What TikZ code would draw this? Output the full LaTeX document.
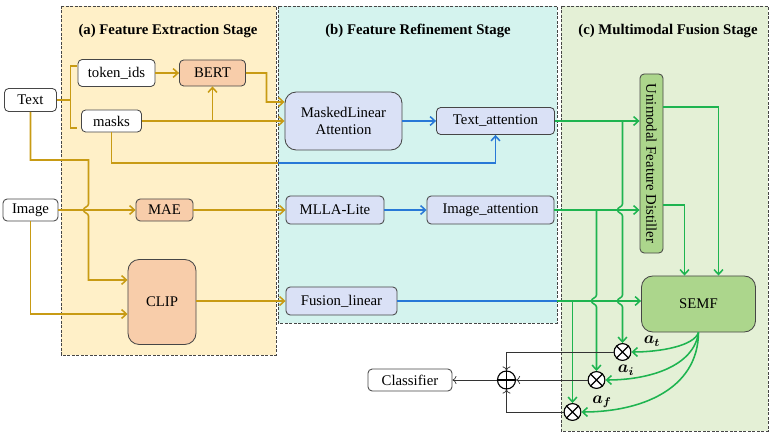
\documentclass[tikz,border=0pt]{standalone}
\usepackage{fontspec}
\setmainfont{Liberation Serif}
\usepackage{bm}
\usetikzlibrary{arrows.meta}
\definecolor{goldline}{RGB}{200,155,20}
\definecolor{blueline}{RGB}{40,120,215}
\definecolor{greenline}{RGB}{30,180,80}
\definecolor{stageA}{RGB}{255,240,200}
\definecolor{stageB}{RGB}{212,243,238}
\definecolor{stageC}{RGB}{228,240,214}
\definecolor{peach}{RGB}{248,205,170}
\definecolor{lavender}{RGB}{218,225,246}
\definecolor{leaf}{RGB}{172,214,140}
\definecolor{edge}{RGB}{70,70,70}

\begin{document}
\begin{tikzpicture}[x=0.025cm, y=-0.025cm, font=\fontsize{10.5}{12}\selectfont,
  >={Straight Barb[length=1.2mm,width=2.2mm]},
  stage/.style={draw=edge, dashed, dash pattern=on 2pt off 1.2pt, line width=0.6pt},
  ttl/.style={font=\fontsize{10.5}{12}\selectfont\bfseries},
  box/.style={draw=edge, line width=0.6pt, rounded corners=3pt, fill=white, inner sep=1pt},
  orbox/.style={box, fill=peach},
  lvbox/.style={box, fill=lavender},
  gnbox/.style={box, fill=leaf},
  op/.style={draw=black, circle, fill=white, line width=0.8pt, minimum size=0.42cm, inner sep=0pt},
  gd/.style={draw=goldline, line width=1.1pt},
  bl/.style={draw=blueline, line width=1.1pt},
  gn/.style={draw=greenline, line width=1.1pt},
  bk/.style={draw=black!80, line width=0.5pt, >={To[length=1mm,width=2mm]}}]
  \useasboundingbox (0,0) rectangle (776,439);
  % stages
  \draw[stage, fill=stageA] (61,6) rectangle (276,355);
  \draw[stage, fill=stageB] (278,6) rectangle (557,323);
  \draw[stage, fill=stageC] (561,6) rectangle (768,431);
  \node[ttl] (ta) at (168,31) {(a) Feature Extraction Stage};
  \node[ttl] (tb) at (418,31) {(b) Feature Refinement Stage};
  \node[ttl] (tc) at (668,31) {(c) Multimodal Fusion Stage};
  % inputs
  \node[box, minimum width=1.3cm, minimum height=0.575cm] (txt) at (30.5,100) {Text};
  \node[box, minimum width=1.375cm, minimum height=0.55cm] (img) at (30.5,210) {Image};
  % stage (a)
  \node[box, minimum width=1.925cm, minimum height=0.675cm] (tok) at (116.5,73) {token\_ids};
  \node[box, minimum width=1.5cm, minimum height=0.55cm] (msk) at (111.5,121) {masks};
  \node[orbox, minimum width=1.65cm, minimum height=0.65cm] (bert) at (212.5,73) {BERT};
  \node[orbox, minimum width=1.425cm, minimum height=0.55cm] (mae) at (164.5,210) {MAE};
  \node[orbox, rounded corners=8pt, minimum width=1.7cm, minimum height=2.125cm] (clip) at (162,302) {CLIP};
  % stage (b)
  \node[lvbox, rounded corners=8pt, minimum width=2.925cm, minimum height=1.45cm, align=center] (mla) at (343.5,121) {MaskedLinear\\Attention};
  \node[lvbox, minimum width=2.95cm, minimum height=0.675cm] (tatt) at (495.5,121) {Text\_attention};
  \node[lvbox, minimum width=2.45cm, minimum height=0.7cm] (mlla) at (335,210) {MLLA-Lite};
  \node[lvbox, minimum width=3.175cm, minimum height=0.7cm] (iatt) at (490.5,210) {Image\_attention};
  \node[lvbox, minimum width=2.775cm, minimum height=0.7cm] (flin) at (341.5,301) {Fusion\_linear};
  % stage (c)
  \node[gnbox, rotate=-90, minimum width=4.475cm, minimum height=0.575cm] (ufd) at (651.5,163.5) {Unimodal Feature Distiller};
  \node[gnbox, rounded corners=8pt, minimum width=2.85cm, minimum height=1.4cm] (semf) at (698.5,304) {SEMF};
  \node[op] (ot) at (622.5,352) {};
  \node[op] (oi) at (596.5,380) {};
  \node[op] (of) at (572.5,412) {};
  \node[op, minimum size=0.45cm] (os) at (506.5,380) {};
  \node[box, minimum width=2.1cm, minimum height=0.55cm] (cls) at (410,380) {Classifier};
  \foreach \n in {ot,oi,of}
    \draw[line width=0.8pt] (\n.north east) -- (\n.south west) (\n.north west) -- (\n.south east);
  \draw[line width=0.8pt] (os.north) -- (os.south) (os.west) -- (os.east);
  \node (lt) at (652,341) {\fontsize{12}{14}\selectfont$\bm{a_t}$};
  \node (li) at (626,370) {\fontsize{12}{14}\selectfont$\bm{a_i}$};
  \node (lf) at (602,402) {\fontsize{12}{14}\selectfont$\bm{a_f}$};

  % text branch
  \draw[gd] (txt.east) -- (70.5,100);
  \draw[gd] (77,66) -- (70.5,66) -- (70.5,128) -- (77,128);
  \draw[gd,->] (tok) -- (bert);
  \draw[gd,->] (msk) -- (mla);
  \draw[gd,->] (bert.south |- msk.east) -- (bert.south);
  \draw[gd,->] (bert.east) -| (266.5,102) -- ([yshift=0.475cm]mla.west);
  \draw[gd] (msk.south) |- (278,163);
  \draw[bl,->] (278,163) -| (tatt.south);
  \draw[gd,->] (txt.south) |- (88.5,160) -- (88.5,204) .. controls (88.5,207) and (83.5,207) .. (83.5,210)
    .. controls (83.5,213) and (88.5,213) .. (88.5,216) |- ([yshift=0.55cm]clip.west);
  % image branch
  \draw[gd,->] (img) -- (mae);
  \draw[gd,->] (img.south) |- ([yshift=-0.3cm]clip.west);
  \draw[gd,->] (mae) -- (mlla);
  \draw[gd,->] (clip.east |- flin.west) -- (flin.west);
  % refinement
  \draw[bl,->] (mla) -- (tatt);
  \draw[bl,->] (mlla) -- (iatt);
  \draw[bl] (flin.east) -- (557,301);
  % fusion
  \draw[gn,->] (tatt.east) -- (ufd.south |- tatt.east);
  \draw[gn,->] (iatt.east) -- (ufd.south |- iatt.east);
  \draw[gn,->] (557,301) -- (semf.west |- 557,301);
  \draw[gn,->] (622.5,121) -- (622.5,204) .. controls (622.5,207) and (617.5,207) .. (617.5,210)
    .. controls (617.5,213) and (622.5,213) .. (622.5,216) -- (622.5,295) .. controls (622.5,298) and (617.5,298) .. (617.5,301)
    .. controls (617.5,304) and (622.5,304) .. (622.5,307) -- (ot.north);
  \draw[gn,->] (596.5,210) -- (596.5,295) .. controls (596.5,298) and (591.5,298) .. (591.5,301)
    .. controls (591.5,304) and (596.5,304) .. (596.5,307) -- (oi.north);
  \draw[gn,->] (572.5,301) -- (of.north);
  \draw[gn,->] (663,107) -| (semf.north -| 718.5,0);
  \draw[gn,->] (663,205) -| (semf.north -| 684.5,0);
  \draw[gn,->] (semf.south) .. controls (694,346) and (660,352) .. (ot.east);
  \draw[gn,->] (semf.south) .. controls (694,366) and (650,380) .. (oi.east);
  \draw[gn,->] (semf.south) .. controls (698,390) and (640,412) .. (of.east);
  % output
  \draw[bk,->] (ot.west) -| (os.north);
  \draw[bk,->] (oi.west) -- (os.east);
  \draw[bk,->] (of.west) -| (os.south);
  \draw[bk,->] (os.west) -- (cls.east);
\end{tikzpicture}
\end{document}
